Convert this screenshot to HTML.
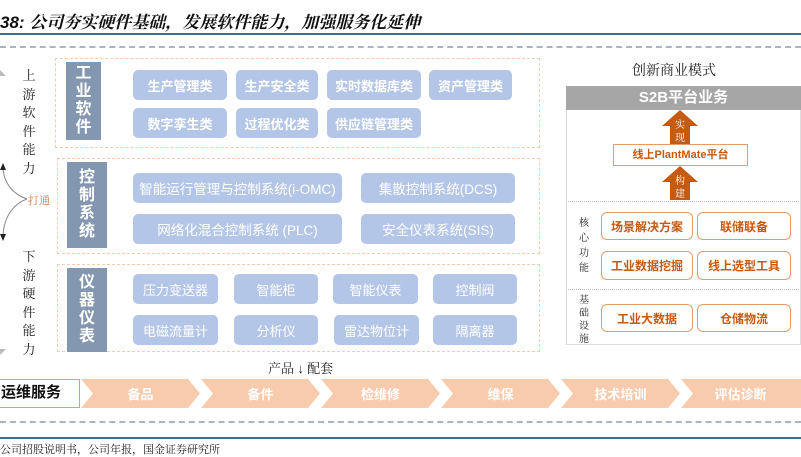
<!DOCTYPE html>
<html><head><meta charset="utf-8"><style>
*{margin:0;padding:0;box-sizing:border-box}
body{width:801px;height:453px;background:#fff;position:relative;overflow:hidden;font-family:"Liberation Sans","Noto Sans CJK SC",sans-serif}
.a{position:absolute}
.chip{position:absolute;background:#b4c6e7;border-radius:5px;color:#fff;font-weight:bold;font-size:13px;display:flex;align-items:center;justify-content:center;white-space:nowrap}
.sec{position:absolute;border:1.5px dashed #f8cbad}
.lab{position:absolute;background:#8497b0;color:#fff;font-weight:bold;font-size:16px;display:flex;flex-direction:column;align-items:center;justify-content:center}
.lab span{display:block;height:18px;line-height:18px}
.vt{position:absolute;font-family:"Noto Serif CJK SC",serif;font-size:13px;line-height:16px;width:16px;text-align:center;color:#222}
.ob{position:absolute;border:1.5px solid #e59c6a;border-radius:6px;background:#fff;color:#c55a11;font-weight:bold;font-size:12px;display:flex;align-items:center;justify-content:center}
.chev{position:absolute;top:379px;height:29px;color:#fff;font-weight:bold;font-size:13px;display:flex;align-items:center;justify-content:center}
</style></head><body>
<div class="a" style="left:0;top:8px;font-size:17px;font-weight:bold;font-style:italic;color:#111;font-family:'Liberation Sans','Noto Serif CJK SC',serif">38: 公司夯实硬件基础，发展软件能力，加强服务化延伸</div>
<div class="a" style="left:0;top:33px;width:801px;height:2px;background:#3d6f8e"></div>
<div class="a" style="left:0;top:46px;width:801px;border-top:2px dashed #a8b5c8"></div>

<div class="sec" style="left:55px;top:58px;width:485px;height:90px"></div>
<div class="lab" style="left:66px;top:62px;width:35px;height:78px"><span>工</span><span>业</span><span>软</span><span>件</span></div>
<div class="chip" style="left:133px;top:70px;width:94px;height:30px">生产管理类</div>
<div class="chip" style="left:236px;top:70px;width:82px;height:30px">生产安全类</div>
<div class="chip" style="left:327px;top:70px;width:94px;height:30px">实时数据库类</div>
<div class="chip" style="left:429px;top:70px;width:83px;height:30px">资产管理类</div>
<div class="chip" style="left:133px;top:108px;width:94px;height:30px">数字孪生类</div>
<div class="chip" style="left:236px;top:108px;width:82px;height:30px">过程优化类</div>
<div class="chip" style="left:327px;top:108px;width:94px;height:30px">供应链管理类</div>

<div class="sec" style="left:57px;top:158px;width:483px;height:96px"></div>
<div class="lab" style="left:67px;top:162px;width:40px;height:86px"><span>控</span><span>制</span><span>系</span><span>统</span></div>
<div class="chip" style="left:133px;top:173px;width:209px;height:30px;font-weight:normal;font-size:13.5px">智能运行管理与控制系统(i-OMC)</div>
<div class="chip" style="left:361px;top:173px;width:154px;height:30px;font-weight:normal;font-size:13.5px">集散控制系统(DCS)</div>
<div class="chip" style="left:133px;top:214px;width:209px;height:30px;font-weight:normal;font-size:13.5px">网络化混合控制系统 (PLC)</div>
<div class="chip" style="left:361px;top:214px;width:154px;height:30px;font-weight:normal;font-size:13.5px">安全仪表系统(SIS)</div>

<div class="sec" style="left:57px;top:264px;width:483px;height:88px"></div>
<div class="lab" style="left:67px;top:268px;width:40px;height:84px"><span>仪</span><span>器</span><span>仪</span><span>表</span></div>
<div class="chip" style="left:133px;top:274px;width:85px;height:30px;font-weight:normal">压力变送器</div>
<div class="chip" style="left:234px;top:274px;width:84px;height:30px;font-weight:normal">智能柜</div>
<div class="chip" style="left:333px;top:274px;width:85px;height:30px;font-weight:normal">智能仪表</div>
<div class="chip" style="left:433px;top:274px;width:84px;height:30px;font-weight:normal">控制阀</div>
<div class="chip" style="left:133px;top:315px;width:85px;height:30px;font-weight:normal">电磁流量计</div>
<div class="chip" style="left:234px;top:315px;width:84px;height:30px;font-weight:normal">分析仪</div>
<div class="chip" style="left:334px;top:315px;width:85px;height:30px;font-weight:normal">雷达物位计</div>
<div class="chip" style="left:433px;top:315px;width:84px;height:30px;font-weight:normal">隔离器</div>

<div class="vt" style="left:21px;top:66px;line-height:18.5px">上<br>游<br>软<br>件<br>能<br>力</div>
<div class="vt" style="left:21px;top:247px;line-height:18.5px">下<br>游<br>硬<br>件<br>能<br>力</div>
<div class="a" style="left:28px;top:192px;font-size:11px;color:#d9773a;font-family:'Noto Serif CJK SC',serif">打通</div>
<svg class="a" style="left:0;top:0" width="60" height="453">
<path d="M3,168 C4,185 15,195 27,199 M27,199 C15,203 4,215 3,236" fill="none" stroke="#888" stroke-width="1"/>
<polygon points="0,170 3,163 6,170" fill="#222"/>
<polygon points="0,234 3,241 6,234" fill="#222"/>
<polygon points="0,70 6,76 0,76" fill="#bbb"/>
<polygon points="0,349 6,349 0,355" fill="#bbb"/>
</svg>

<div class="a" style="left:632px;top:60px;font-size:14px;font-family:'Noto Serif CJK SC',serif;color:#222">创新商业模式</div>
<div class="a" style="left:566px;top:86px;width:235px;height:259px;border:1px solid #ddd"></div>
<div class="a" style="left:566px;top:86px;width:235px;height:24px;background:#a6a6a6;color:#fff;font-weight:bold;font-size:15px;text-align:center;line-height:24px">S2B平台业务</div>
<svg class="a" style="left:650px;top:108px" width="60" height="96">
<polygon points="30,2 48,18 40,18 40,36 20,36 20,18 12,18" fill="#c55a11"/>
<polygon points="30,58 48,74 40,74 40,92 20,92 20,74 12,74" fill="#c55a11"/>
<text x="30" y="20" fill="#fff" font-size="10" text-anchor="middle" font-family="Noto Serif CJK SC">实</text>
<text x="30" y="33" fill="#fff" font-size="10" text-anchor="middle" font-family="Noto Serif CJK SC">现</text>
<text x="30" y="76" fill="#fff" font-size="10" text-anchor="middle" font-family="Noto Serif CJK SC">构</text>
<text x="30" y="89" fill="#fff" font-size="10" text-anchor="middle" font-family="Noto Serif CJK SC">建</text>
</svg>
<div class="a" style="left:613px;top:144px;width:135px;height:22px;border:1px solid #e59c6a;background:#fff;color:#c55a11;font-size:11px;font-weight:bold;text-align:center;line-height:20px">线上PlantMate平台</div>
<div class="a" style="left:568px;top:201px;width:231px;border-top:1.5px dotted #bbb"></div>
<div class="a" style="left:568px;top:289px;width:231px;border-top:1.5px dotted #bbb"></div>
<div class="vt" style="left:576px;top:214px;font-size:10px;line-height:15px">核<br>心<br>功<br>能</div>
<div class="vt" style="left:576px;top:292px;font-size:10px;line-height:13px">基<br>础<br>设<br>施</div>
<div class="ob" style="left:601px;top:212px;width:92px;height:28px">场景解决方案</div>
<div class="ob" style="left:697px;top:212px;width:94px;height:28px">联储联备</div>
<div class="ob" style="left:601px;top:251px;width:92px;height:29px">工业数据挖掘</div>
<div class="ob" style="left:697px;top:251px;width:94px;height:29px">线上选型工具</div>
<div class="ob" style="left:601px;top:304px;width:92px;height:28px">工业大数据</div>
<div class="ob" style="left:697px;top:304px;width:94px;height:28px">仓储物流</div>

<div class="a" style="left:268px;top:358px;font-size:13px;font-family:'Noto Serif CJK SC',serif;color:#222">产品 <span style="font-family:'Liberation Sans'">↓</span> 配套</div>
<div class="a" style="left:-2px;top:379px;width:82px;height:29px;border:1.5px solid #e59c6a;background:#fff;font-weight:bold;font-size:15px;line-height:26px;padding-left:2px;color:#111">运维服务</div>
<svg class="a" style="left:0;top:379px" width="801" height="29">
<g fill="#f8cbad">
<polygon points="81,0 188,0 200,14.5 188,29 81,29 93,14.5"/>
<polygon points="201,0 308,0 320,14.5 308,29 201,29 213,14.5"/>
<polygon points="321,0 428,0 440,14.5 428,29 321,29 333,14.5"/>
<polygon points="441,0 548,0 560,14.5 548,29 441,29 453,14.5"/>
<polygon points="561,0 668,0 680,14.5 668,29 561,29 573,14.5"/>
<polygon points="681,0 801,0 801,29 681,29 693,14.5"/>
</g></svg>
<div class="chev" style="left:81px;width:119px">备品</div>
<div class="chev" style="left:201px;width:119px">备件</div>
<div class="chev" style="left:321px;width:119px">检维修</div>
<div class="chev" style="left:441px;width:119px">维保</div>
<div class="chev" style="left:561px;width:119px">技术培训</div>
<div class="chev" style="left:681px;width:119px">评估诊断</div>
<div class="a" style="left:0;top:421px;width:801px;border-top:2px dashed #a8b5c8"></div>
<div class="a" style="left:0;top:437px;width:801px;height:2px;background:#3d6f8e"></div>
<div class="a" style="left:0;top:441px;font-size:11px;font-family:'Noto Serif CJK SC',serif;color:#222">公司招股说明书，公司年报，国金证券研究所</div>
</body></html>
